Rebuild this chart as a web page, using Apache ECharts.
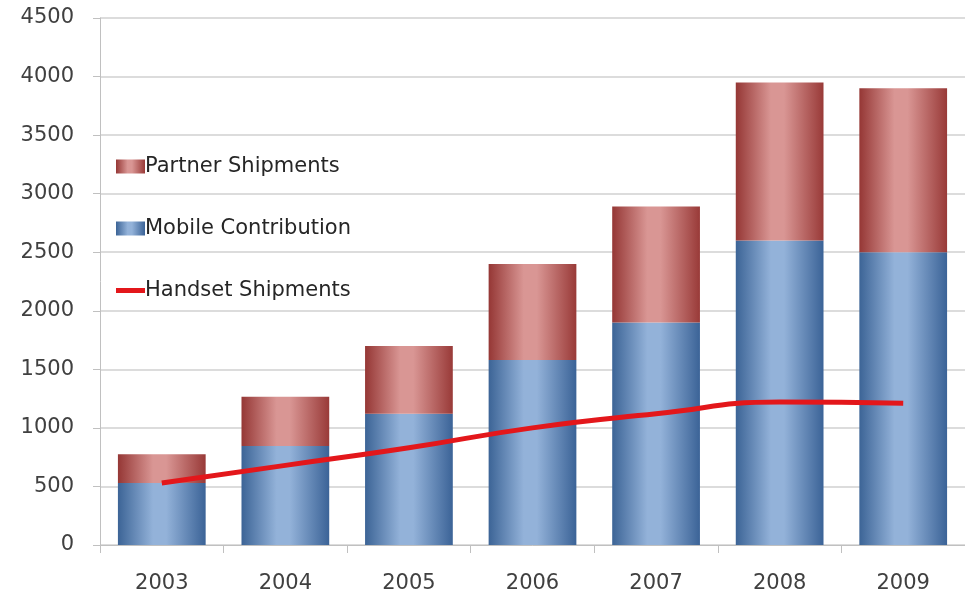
<!DOCTYPE html>
<html>
<head>
<meta charset="utf-8">
<script src="https://cdn.jsdelivr.net/npm/echarts@6/dist/echarts.min.js"></script>
<style>html,body{margin:0;padding:0;background:#fff;}#c{width:965px;height:602px;}</style>
</head>
<body>
<div id="c"></div>
<script>
const categories = ['2003','2004','2005','2006','2007','2008','2009'];
const mobileContribution = [530, 845, 1120, 1580, 1900, 2600, 2500];
const totalShipments = [775, 1265, 1700, 2400, 2890, 3950, 3900];
const partnerShipments = totalShipments.map((t, i) => t - mobileContribution[i]);
const handsetShipments = [530, 680, 830, 1000, 1120, 1220, 1210];
const yTicks = [0, 500, 1000, 1500, 2000, 2500, 3000, 3500, 4000, 4500];

const font = '"DejaVu Sans", "Open Sans", sans-serif';
function hGrad(dark, light, dark2) {
  return new echarts.graphic.LinearGradient(0, 0, 1, 0, [
    {offset: 0, color: dark},
    {offset: 0.4, color: light},
    {offset: 0.55, color: light},
    {offset: 1, color: dark2}
  ]);
}
const blue = hGrad('#3c6496', '#93b2d9', '#3b6397');
const red = hGrad('#953735', '#d99694', '#993a38');

const chart = echarts.init(document.getElementById('c'), null, {renderer: 'canvas'});
chart.setOption({
  animation: false,
  backgroundColor: '#ffffff',
  grid: {left: 100, right: -2, top: 18, bottom: 57, containLabel: false},
  legend: {
    orient: 'vertical',
    left: 111,
    top: 151,
    itemGap: 41,
    itemWidth: 29,
    itemHeight: 14,
    symbolKeepAspect: true,
    textStyle: {fontFamily: font, fontSize: 21, color: '#262626', padding: [0, 0, 0, -5]},
    data: [
      {name: 'Partner Shipments', icon: 'rect'},
      {name: 'Mobile Contribution', icon: 'rect'},
      {name: 'Handset Shipments', icon: 'path://M0,0H29V5H0Z', itemStyle: {color: '#e3171b'}}
    ]
  },
  xAxis: {
    type: 'category',
    data: categories,
    boundaryGap: true,
    axisLine: {lineStyle: {color: '#c0c0c0', width: 1}},
    axisTick: {show: true, length: 8, lineStyle: {color: '#c0c0c0'}},
    axisLabel: {fontFamily: font, fontSize: 21, color: '#404040', margin: 28}
  },
  yAxis: {
    type: 'value',
    min: yTicks[0],
    max: yTicks[yTicks.length - 1],
    interval: 500,
    axisLine: {show: true, lineStyle: {color: '#c0c0c0'}},
    axisTick: {show: true, length: 7, lineStyle: {color: '#c0c0c0'}},
    splitLine: {lineStyle: {color: '#d0d0d0', width: 1.5}},
    axisLabel: {fontFamily: font, fontSize: 21, color: '#404040', margin: 26, formatter: v => String(v)}
  },
  series: [
    {
      name: 'Mobile Contribution',
      type: 'bar',
      stack: 'total',
      barWidth: '71%',
      data: mobileContribution,
      itemStyle: {color: blue}
    },
    {
      name: 'Partner Shipments',
      type: 'bar',
      stack: 'total',
      barWidth: '71%',
      data: partnerShipments,
      itemStyle: {color: red}
    },
    {
      name: 'Handset Shipments',
      type: 'line',
      smooth: 0.5,
      symbol: 'none',
      data: handsetShipments,
      lineStyle: {color: '#e3171b', width: 5},
      itemStyle: {color: '#e3171b'},
      z: 5
    }
  ]
});
</script>
</body>
</html>
